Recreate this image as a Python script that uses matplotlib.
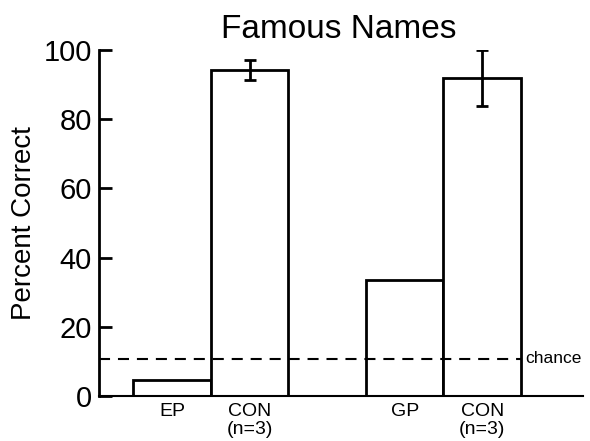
import matplotlib
matplotlib.use("Agg")
import matplotlib.pyplot as plt

categories = ["EP", "CON\n(n=3)", "GP", "CON\n(n=3)"]
positions = [0, 1, 3, 4]
values = [4.5, 94.3, 33.4, 91.9]
errors = [0, 2.9, 0, 8.2]
chance = 10.7

plt.rcParams['font.family'] = ['Liberation Sans', 'DejaVu Sans']

fig = plt.figure(figsize=(5.9, 4.41), dpi=100)
ax = fig.add_axes([99/590, 1-396/441, (583-99)/590, (396-50)/441])

ax.bar(positions, values, width=1.0, color='white', edgecolor='black', linewidth=2, zorder=2)
for p, v, e in zip(positions, values, errors):
    if e > 0:
        ax.errorbar(p, v, yerr=e, fmt='none', ecolor='black', elinewidth=2,
                    capsize=4, capthick=2, zorder=3)

ax.plot([-0.944, 4.5], [chance, chance], linestyle=(0, (5.3, 3.8)), color='black',
        linewidth=1.5, zorder=4, clip_on=False)
ax.text(4.56, chance, "chance", fontsize=12.5, va='center', ha='left')

ax.set_xlim(-0.944, 5.30)
ax.set_ylim(0, 100)
ax.set_xticks(positions)
ax.set_xticklabels(categories, fontsize=14, linespacing=1.05)
ax.tick_params(axis='x', length=0, pad=5)
ax.set_yticks([0, 20, 40, 60, 80, 100])
ax.tick_params(axis='y', direction='in', length=9, width=2, labelsize=21, pad=5)
ax.spines['top'].set_visible(False)
ax.spines['right'].set_visible(False)
ax.spines['left'].set_linewidth(2)
ax.spines['bottom'].set_linewidth(1.5)
ax.set_ylabel("Percent Correct", fontsize=20, labelpad=5)

fig.text(339/590, 1-29/441, "Famous Names", fontsize=24, ha='center', va='center')

fig.savefig("out.png", dpi=100)
